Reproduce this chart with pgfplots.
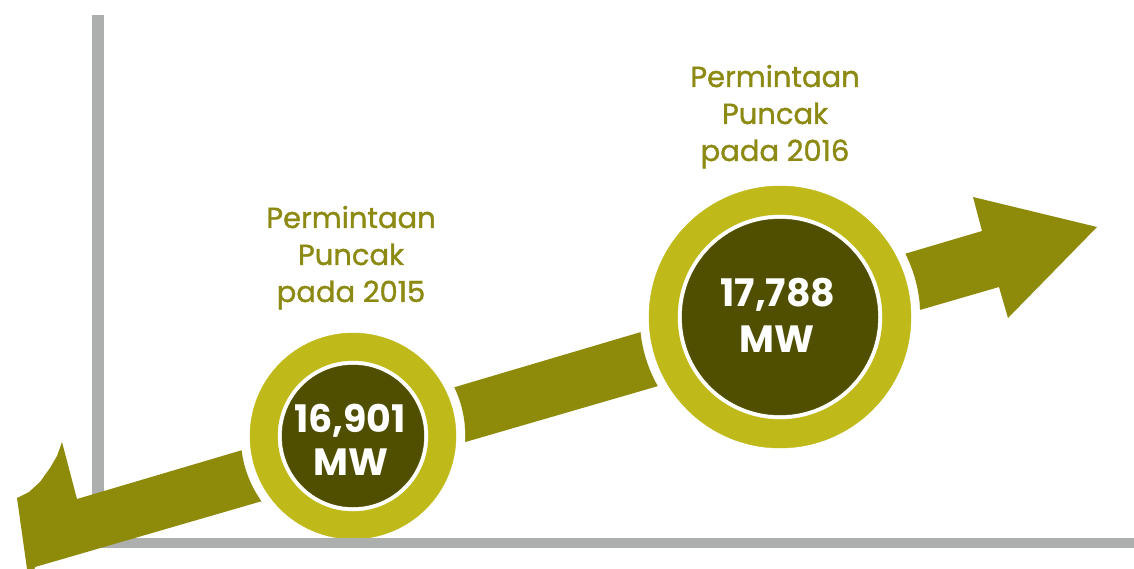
\documentclass[border=0pt]{standalone}
\usepackage{pgfplots}
\pgfplotsset{compat=1.18}
\usepackage{fontspec}
\setmainfont{Poppins}
\newfontfamily\ttlfont{Poppins}[FakeBold=1.2]
\definecolor{shaft}{HTML}{8E8B0B}
\definecolor{ring}{HTML}{BFBA1A}
\definecolor{core}{HTML}{504F00}
\definecolor{title}{HTML}{8C8A12}
\definecolor{axgray}{HTML}{ADAFAE}
\begin{document}
\begin{tikzpicture}
\begin{axis}[width=1134pt, height=568pt, scale only axis,
  xmin=0, xmax=1134, ymin=0, ymax=568, y dir=reverse,
  hide axis, clip=true]
% background
\addplot[fill=white, draw=none] coordinates {(0,0)(1134,0)(1134,568)(0,568)} -- cycle;
% gray axes
\addplot[fill=axgray, draw=none] coordinates {(92,15)(104,15)(104,548)(92,548)} -- cycle;
\addplot[fill=axgray, draw=none] coordinates {(92,538)(1134,538)(1134,548)(92,548)} -- cycle;
% arrow shaft with tail barb and head
\addplot[fill=shaft, draw=none] coordinates {
  (17,498)(29,492)(40,482)(50,468)(57,456)(62,442)
  (77,499)(982,231)(973,197)(1097,227)(1008,318)(999,287)
  (35,567)(30,590)} -- cycle;
% white halos
\addplot[only marks, mark=*, color=white, mark size=112pt] coordinates {(353,436)};
\addplot[only marks, mark=*, color=white, mark size=140pt] coordinates {(780,317)};
% rings
\addplot[only marks, mark=*, color=ring, mark size=103pt] coordinates {(353,436)};
\addplot[only marks, mark=*, color=ring, mark size=131pt] coordinates {(780,317)};
\addplot[only marks, mark=*, color=white, mark size=75pt] coordinates {(353,436)};
\addplot[only marks, mark=*, color=white, mark size=102pt] coordinates {(780,317)};
\addplot[only marks, mark=*, color=core, mark size=71pt] coordinates {(353,436)};
\addplot[only marks, mark=*, color=core, mark size=98pt] coordinates {(780,317)};
\coordinate (t1a) at (axis cs:351,228);
\coordinate (t1b) at (axis cs:351,265);
\coordinate (t1c) at (axis cs:351,302);
\coordinate (t2a) at (axis cs:775,87);
\coordinate (t2b) at (axis cs:775,124);
\coordinate (t2c) at (axis cs:775,161);
\coordinate (v1a) at (axis cs:350,432);
\coordinate (v1b) at (axis cs:351,475);
\coordinate (v2a) at (axis cs:778,307);
\coordinate (v2b) at (axis cs:777,353);
\coordinate (g1) at (axis cs:150,538);
\coordinate (g2) at (axis cs:1134,548);
\end{axis}
\fill[axgray] (g1) rectangle (g2);
\tikzset{ttl/.style={anchor=base, text=title, font=\ttlfont\fontsize{29}{36}\selectfont, inner sep=0pt},
         val/.style={anchor=base, text=white, font=\fontsize{38}{44}\selectfont\bfseries, inner sep=0pt}}
\node[ttl] at (t1a) {Permintaan};
\node[ttl] at (t1b) {Puncak};
\node[ttl] at (t1c) {pada 2015};
\node[ttl] at (t2a) {Permintaan};
\node[ttl] at (t2b) {Puncak};
\node[ttl] at (t2c) {pada 2016};
\node[val] at (v1a) {16,901};
\node[val] at (v1b) {MW};
\node[val] at (v2a) {17,788};
\node[val] at (v2b) {MW};
\end{tikzpicture}
\end{document}
